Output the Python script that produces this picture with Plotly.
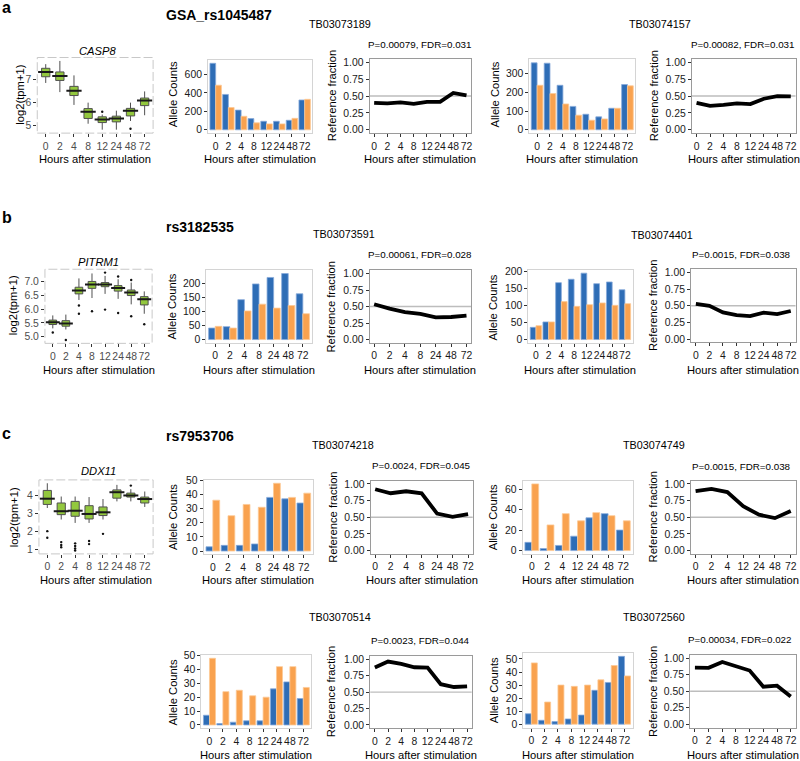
import plotly.graph_objects as go

# ---------------- data ----------------
H8 = ["0", "2", "4", "8", "12", "24", "48", "72"]
H7_NO12 = ["0", "2", "4", "8", "24", "48", "72"]
H7_NO8 = ["0", "2", "4", "12", "24", "48", "72"]

# expression boxplots (log2(tpm+1))
CASP8_LOWER = [6.85, 6.45, 5.89, 5.07, 4.81, 4.81, 5.19, 5.44]
CASP8_Q1 = [7.12, 6.96, 6.30, 5.30, 5.12, 5.15, 5.41, 5.86]
CASP8_MED = [7.33, 7.15, 6.51, 5.59, 5.25, 5.30, 5.64, 6.08]
CASP8_Q3 = [7.49, 7.33, 6.70, 5.73, 5.37, 5.40, 5.74, 6.19]
CASP8_UPPER = [7.67, 7.81, 7.18, 5.99, 5.47, 5.64, 5.99, 6.48]
CASP8_OUT_X = ["12", "48"]
CASP8_OUT_Y = [5.59, 4.85]

PITRM1_LOWER = [5.30, 5.26, 6.33, 6.40, 6.55, 6.37, 6.17, 5.83]
PITRM1_Q1 = [5.44, 5.38, 6.55, 6.75, 6.81, 6.65, 6.49, 6.15]
PITRM1_MED = [5.52, 5.48, 6.67, 6.89, 6.89, 6.76, 6.60, 6.36]
PITRM1_Q3 = [5.60, 5.58, 6.79, 7.00, 6.96, 6.85, 6.69, 6.45]
PITRM1_UPPER = [5.77, 5.80, 7.11, 7.29, 7.20, 7.08, 6.96, 6.64]
PITRM1_OUT_X = ["0", "2", "4", "4", "8", "12", "12", "24", "24", "48", "48", "72"]
PITRM1_OUT_Y = [5.15, 4.88, 6.13, 5.83, 5.92, 7.32, 5.98, 7.18, 5.86, 7.05, 5.74, 5.45]

DDX11_LOWER = [3.32, 2.68, 2.49, 2.49, 2.68, 3.69, 3.69, 3.38]
DDX11_Q1 = [3.52, 2.95, 2.86, 2.71, 2.90, 3.87, 3.93, 3.60]
DDX11_MED = [3.84, 3.14, 3.17, 2.99, 3.08, 4.20, 4.02, 3.82]
DDX11_Q3 = [4.30, 3.60, 3.69, 3.45, 3.38, 4.33, 4.15, 3.93]
DDX11_UPPER = [4.70, 3.96, 3.96, 3.93, 3.82, 4.61, 4.37, 4.24]
DDX11_OUT_X = ["0", "0", "2", "2", "2", "4", "4", "4", "4", "8", "8", "12", "48"]
DDX11_OUT_Y = [2.03, 1.66, 1.42, 1.26, 1.13, 1.35, 1.20, 1.06, 0.95, 1.48, 1.31, 1.88, 4.57]

# allele counts (blue / orange) and reference fraction
TB03073189_BLUE = [720, 383, 213, 121, 92, 92, 103, 323]
TB03073189_ORANGE = [483, 241, 146, 75, 64, 64, 124, 330]
TB03073189_REF = [0.40, 0.39, 0.405, 0.385, 0.415, 0.415, 0.546, 0.51]

TB03074157_BLUE = [358, 356, 238, 125, 83, 69, 115, 242]
TB03074157_ORANGE = [238, 194, 138, 78, 51, 58, 115, 235]
TB03074157_REF = [0.40, 0.355, 0.37, 0.39, 0.38, 0.46, 0.50, 0.495]

TB03073591_BLUE = [41, 46, 142, 198, 221, 235, 163]
TB03073591_ORANGE = [47, 41, 102, 126, 112, 121, 92]
TB03073591_REF = [0.535, 0.468, 0.417, 0.388, 0.337, 0.342, 0.362]

TB03074401_BLUE = [36, 52, 168, 178, 196, 165, 170, 147]
TB03074401_ORANGE = [41, 52, 112, 98, 103, 108, 101, 106]
TB03074401_REF = [0.53, 0.50, 0.40, 0.36, 0.345, 0.398, 0.375, 0.422]

TB03074218_BLUE = [3, 4, 4, 5, 38, 37, 34]
TB03074218_ORANGE = [36, 25, 33, 31, 48, 38, 41]
TB03074218_REF = [0.92, 0.86, 0.89, 0.86, 0.555, 0.505, 0.545]

TB03074749_BLUE = [8, 2, 5, 14, 32, 36, 20]
TB03074749_ORANGE = [65, 25, 36, 29, 37, 34, 29]
TB03074749_REF = [0.89, 0.926, 0.878, 0.665, 0.538, 0.487, 0.593]

TB03070514_BLUE = [7, 1, 2, 3, 3, 26, 31, 19]
TB03070514_ORANGE = [48, 24, 25, 21, 20, 42, 42, 27]
TB03070514_REF = [0.875, 0.965, 0.93, 0.878, 0.872, 0.62, 0.578, 0.588]

TB03072560_BLUE = [8, 3, 2, 4, 7, 26, 32, 52]
TB03072560_ORANGE = [47, 17, 30, 29, 30, 34, 45, 37]
TB03072560_REF = [0.858, 0.856, 0.944, 0.883, 0.814, 0.569, 0.585, 0.42]

# ---------------- style ----------------
W, H = 800, 761
FONT = "Liberation Sans, Arial, Helvetica, sans-serif"
BLUE, BLUE_EDGE = "#2E6DB6", "#86AADB"
ORANGE, ORANGE_EDGE = "#F9A24F", "#FCC996"
GREEN = "#93C83E"
BOXGAP = 0.16
TICK_SIZE = 10.4
TITLE_SIZE = 11.2

fig = go.Figure()
layout_axes = {}
annotations = []
shapes = []
counter = [0]


def px_x(x):
    return x / W


def px_y(y):
    return 1 - y / H


def text(x, y, s, size, angle=0, anchor="center", color="#000000"):
    annotations.append(dict(x=px_x(x), y=px_y(y), xref="paper", yref="paper", text=s,
                            showarrow=False, xanchor=anchor, yanchor="middle",
                            textangle=angle, font=dict(family=FONT, size=size, color=color)))


def new_axes(box, cats, yrange, yticks, ytext, tick_color, frame_color=None):
    counter[0] += 1
    n = counter[0]
    xr = "x" if n == 1 else f"x{n}"
    yr = "y" if n == 1 else f"y{n}"
    x0, x1, y0, y1 = box
    common = dict(ticks="outside", ticklen=3, tickwidth=1, tickcolor="#333333",
                  showgrid=False, zeroline=False,
                  tickfont=dict(family=FONT, size=TICK_SIZE, color=tick_color))
    if frame_color:
        common.update(showline=True, mirror=True, linecolor=frame_color, linewidth=1)
    else:
        common.update(showline=False)
    pad = 0.6
    layout_axes["xaxis" if n == 1 else f"xaxis{n}"] = dict(
        domain=[px_x(x0), px_x(x1)], anchor=yr, type="category",
        categoryorder="array", categoryarray=cats,
        range=[-pad, len(cats) - 1 + pad], tickangle=0, **common)
    layout_axes["yaxis" if n == 1 else f"yaxis{n}"] = dict(
        domain=[px_y(y1), px_y(y0)], anchor=xr, range=yrange,
        tickmode="array", tickvals=yticks, ticktext=ytext, **common)
    return xr, yr, n


def box_panel(box, cats, lower, q1, med, q3, upper, out_x, out_y, yticks, ytext, gene, gene_xy,
              ytitle_xy, xtitle_xy):
    lo = min(min(lower), min(out_y))
    hi = max(max(upper), max(out_y))
    pad = 0.05 * (hi - lo)
    xr, yr, n = new_axes(box, cats, [lo - pad, hi + pad], yticks, ytext, "#4D4D4D")
    fig.add_trace(go.Box(x=cats, q1=q1, median=med, q3=q3, lowerfence=lower, upperfence=upper,
                         fillcolor=GREEN, line=dict(color="#505050", width=1), whiskerwidth=0,
                         boxpoints=False, xaxis=xr, yaxis=yr, showlegend=False, hoverinfo="skip"))
    spacing = (box[1] - box[0]) / (len(cats) - 1 + 1.2)
    fig.add_trace(go.Scatter(x=cats, y=med, mode="markers", xaxis=xr, yaxis=yr, showlegend=False,
                             marker=dict(symbol="line-ew", size=spacing * (1 - BOXGAP) - 1,
                                         line=dict(width=2, color="#1A1A1A")), hoverinfo="skip"))
    fig.add_trace(go.Scatter(x=out_x, y=out_y, mode="markers", xaxis=xr, yaxis=yr, showlegend=False,
                             marker=dict(size=2.4, color="#111111"), hoverinfo="skip"))
    dref = ("x" if n == 1 else f"x{n}") + " domain"
    yref = ("y" if n == 1 else f"y{n}") + " domain"
    shapes.append(dict(type="rect", xref=dref, yref=yref, x0=0, x1=1, y0=0, y1=1,
                       line=dict(color="#C8C8C8", width=1, dash="9px,3px")))
    text(gene_xy[0], gene_xy[1], f"<i>{gene}</i>", TITLE_SIZE)
    text(ytitle_xy[0], ytitle_xy[1], "log2(tpm+1)", TITLE_SIZE, angle=-90)
    text(xtitle_xy[0], xtitle_xy[1], "Hours after stimulation", TITLE_SIZE)


def bar_panel(box, cats, blue, orange, yticks, ytitle_xy, xtitle_y):
    m = max(max(blue), max(orange))
    xr, yr, n = new_axes(box, cats, [-0.05 * m, 1.05 * m], yticks, [str(v) for v in yticks],
                         "#1A1A1A", frame_color="#D4D4D4")
    fig.add_trace(go.Bar(x=cats, y=blue, marker=dict(color=BLUE, line=dict(color=BLUE_EDGE, width=0.8)),
                         xaxis=xr, yaxis=yr, showlegend=False, hoverinfo="skip"))
    fig.add_trace(go.Bar(x=cats, y=orange, marker=dict(color=ORANGE, line=dict(color=ORANGE_EDGE, width=0.8)),
                         xaxis=xr, yaxis=yr, showlegend=False, hoverinfo="skip"))
    text(ytitle_xy[0], ytitle_xy[1], "Allele Counts", TITLE_SIZE, angle=-90)
    text((box[0] + box[1]) / 2, xtitle_y, "Hours after stimulation", TITLE_SIZE)


def line_panel(box, cats, ref, ptext, p_xy, ytitle_xy, xtitle_y):
    ticks = [0, 0.25, 0.5, 0.75, 1.0]
    xr, yr, n = new_axes(box, cats, [-0.05, 1.05], ticks, [f"{v:.2f}" for v in ticks],
                         "#1A1A1A", frame_color="#9A9A9A")
    k = "xaxis" if n == 1 else f"xaxis{n}"
    layout_axes[k]["range"] = [-0.05 * (len(cats) - 1), (len(cats) - 1) * 1.05]
    dref = ("x" if n == 1 else f"x{n}") + " domain"
    shapes.append(dict(type="line", xref=dref, yref=yr, x0=0, x1=1, y0=0.5, y1=0.5,
                       line=dict(color="#BDBDBD", width=1.4), layer="below"))
    fig.add_trace(go.Scatter(x=cats, y=ref, mode="lines", line=dict(color="#000000", width=3.8),
                             xaxis=xr, yaxis=yr, showlegend=False, hoverinfo="skip"))
    text(p_xy[0], p_xy[1], ptext, 9.8)
    text(ytitle_xy[0], ytitle_xy[1], "Reference fraction", TITLE_SIZE, angle=-90)
    text((box[0] + box[1]) / 2, xtitle_y, "Hours after stimulation", TITLE_SIZE)


# ---------------- row a ----------------
text(0, 3, "<b>a</b>", 16, anchor="left")
text(164, 10, "<b>GSA_rs1045487</b>", 14, anchor="left")
box_panel((37.3, 153.3, 53, 129.3), H8, CASP8_LOWER, CASP8_Q1, CASP8_MED, CASP8_Q3, CASP8_UPPER,
          CASP8_OUT_X, CASP8_OUT_Y, [5, 6, 7], ["5", "6", "7"], "CASP8", (98, 46.7), (20.5, 90), (95.5, 155.7))
text(340.8, 19, "TB03073189", 10.8)
bar_panel((208.3, 312.7, 55.5, 129.3), H8, TB03073189_BLUE, TB03073189_ORANGE, [0, 200, 400, 600],
          (173.3, 90), 155.7)
line_panel((370, 471.7, 54.5, 129.3), H8, TB03073189_REF, "P=0.00079, FDR=0.031", (420.8, 40),
           (332.7, 91.7), 155.7)
text(660.8, 19, "TB03074157", 10.8)
bar_panel((530, 636, 55, 129.3), H8, TB03074157_BLUE, TB03074157_ORANGE, [0, 100, 200, 300],
          (496, 90), 155.7)
line_panel((692.7, 796.5, 54.5, 129.3), H8, TB03074157_REF, "P=0.00082, FDR=0.031", (744, 40),
           (655, 92), 155.7)

# ---------------- row b ----------------
text(0, 214, "<b>b</b>", 16, anchor="left")
text(164, 224, "<b>rs3182535</b>", 14, anchor="left")
box_panel((45, 152.3, 266.7, 341.5), H8, PITRM1_LOWER, PITRM1_Q1, PITRM1_MED, PITRM1_Q3, PITRM1_UPPER,
          PITRM1_OUT_X, PITRM1_OUT_Y, [5.0, 5.5, 6.0, 6.5, 7.0], ["5.0", "5.5", "6.0", "6.5", "7.0"],
          "PITRM1", (99, 259), (12.7, 303.3), (98.7, 368))
text(344.3, 230.7, "TB03073591", 10.8)
bar_panel((206.7, 312, 267.7, 341), H7_NO12, TB03073591_BLUE, TB03073591_ORANGE, [0, 50, 100, 150, 200],
          (172.5, 304), 368)
line_panel((370, 471.7, 267.7, 341), H7_NO12, TB03073591_REF, "P=0.00061, FDR=0.028", (420.3, 252.3),
           (331.7, 305), 368)
text(662.7, 232, "TB03074401", 10.8)
bar_panel((529, 633.3, 267.3, 341), H8, TB03074401_BLUE, TB03074401_ORANGE, [0, 50, 100, 150, 200],
          (494, 305), 368)
line_panel((692, 796.5, 266.7, 340.5), H8, TB03074401_REF, "P=0.0015, FDR=0.038", (742, 251.7),
           (653.3, 303.3), 368)

# ---------------- row c ----------------
text(0, 432, "<b>c</b>", 16, anchor="left")
text(164, 435, "<b>rs7953706</b>", 14, anchor="left")
box_panel((39, 153.3, 479.3, 554), H8, DDX11_LOWER, DDX11_Q1, DDX11_MED, DDX11_Q3, DDX11_UPPER,
          DDX11_OUT_X, DDX11_OUT_Y, [1, 2, 3, 4], ["1", "2", "3", "4"], "DDX11", (99, 470.7),
          (14.3, 516.7), (96, 580))
text(343.3, 444.3, "TB03074218", 10.8)
bar_panel((204, 313.3, 479.3, 554.5), H7_NO12, TB03074218_BLUE, TB03074218_ORANGE, [0, 10, 20, 30, 40, 50],
          (173.3, 516.7), 580)
line_panel((371, 473.3, 480, 554), H7_NO12, TB03074218_REF, "P=0.0024, FDR=0.045", (421.7, 464.3),
           (333.3, 516.7), 580)
text(655, 444.3, "TB03074749", 10.8)
bar_panel((523.3, 633.3, 480, 554), H7_NO8, TB03074749_BLUE, TB03074749_ORANGE, [0, 20, 40, 60],
          (494, 516.7), 580)
line_panel((691.7, 796.5, 480, 554), H7_NO8, TB03074749_REF, "P=0.0015, FDR=0.038", (742, 465.3),
           (653.3, 516.7), 580)

text(340, 617.7, "TB03070514", 10.8)
bar_panel((201.7, 311.7, 656, 730), H8, TB03070514_BLUE, TB03070514_ORANGE, [0, 10, 20, 30, 40, 50],
          (172.7, 693.3), 756.7)
line_panel((370.7, 472.3, 657, 730), H8, TB03070514_REF, "P=0.0023, FDR=0.044", (421, 641),
           (331.7, 693.3), 756.7)
text(654.7, 617.7, "TB03072560", 10.8)
bar_panel((524, 633.3, 654, 729.3), H8, TB03072560_BLUE, TB03072560_ORANGE, [0, 10, 20, 30, 40, 50],
          (494.3, 692), 756.7)
line_panel((691, 796.5, 656, 729.3), H8, TB03072560_REF, "P=0.00034, FDR=0.022", (741.3, 640),
           (653.3, 693), 756.7)

fig.update_layout(width=W, height=H, margin=dict(l=0, r=0, t=0, b=0),
                  paper_bgcolor="white", plot_bgcolor="white",
                  barmode="group", bargap=0.1, bargroupgap=0, boxgap=BOXGAP,
                  showlegend=False, annotations=annotations, shapes=shapes,
                  font=dict(family=FONT, color="#000000"), **layout_axes)
fig.write_html("out.html", config={"displayModeBar": False, "staticPlot": True},
               post_script="document.body.style.margin='0';document.body.style.padding='0';"
                           "document.body.style.overflow='hidden';"
                           "document.documentElement.style.overflow='hidden';")
